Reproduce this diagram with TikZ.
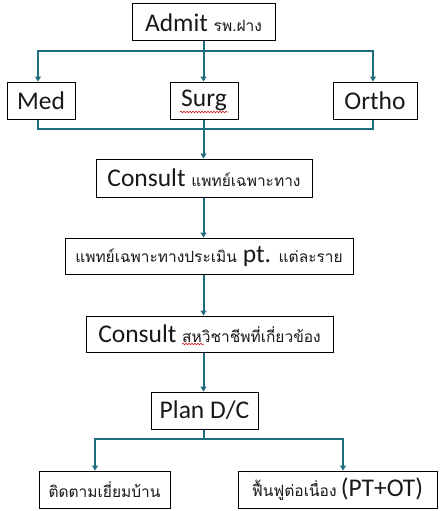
\documentclass[tikz,border=0pt]{standalone}
\usepackage{fontspec}
\setmainfont{Carlito}
\newfontfamily\thaifont[Script=Thai]{Loma}
\usetikzlibrary{arrows.meta,decorations.pathmorphing}
\definecolor{flow}{RGB}{30,108,124}
\newcommand{\latsize}{\fontsize{25.5}{28}\selectfont}
\newcommand{\thtxt}{\thaifont\fontsize{15.5}{18}\selectfont}
\tikzset{
  box/.style={draw=black, line width=1pt, fill=white, rectangle, inner sep=0pt,
    minimum height=37pt, font=\latsize, text=black!90},
  link/.style={draw=flow, line width=2pt},
  arr/.style={link, -{Triangle[width=6pt,length=5pt]}},
  squiggle/.style={draw=red!85!black, line width=0.5pt,
    decorate, decoration={snake, amplitude=0.8pt, segment length=3pt}}
}
\begin{document}
\begin{tikzpicture}[x=1pt,y=-1pt]
\useasboundingbox (0,0) rectangle (440,511);

% boxes
\node[box, minimum width=143pt] (admit) at (203.5,22.5) {Admit {\thtxt รพ.ฝาง}};
\node[box, minimum width=68pt] (med) at (41,100.5) {Med};
\node[box, minimum width=68pt] (surg) at (204,100.5) {Surg};
\node[box, minimum width=84pt] (ortho) at (375,100.5) {Ortho};
\node[box, minimum width=216pt, minimum height=38pt] (consult) at (204,178) {Consult {\thtxt แพทย์เฉพาะทาง}};
\node[box, minimum width=288pt, minimum height=36pt] (assess) at (209,256) {{\thtxt แพทย์เฉพาะทางประเมิน} pt. {\thtxt แต่ละราย}};
\node[box, minimum width=247pt, minimum height=36pt] (allied) at (209.5,334) {Consult {\thtxt สหวิชาชีพที่เกี่ยวข้อง}};
\node[box, minimum width=107pt] (plan) at (204.5,410.5) {Plan D/C};
\node[box, minimum width=131pt] (visit) at (104.5,489.5) {\thtxt ติดตามเยี่ยมบ้าน};
\node[box, minimum width=199pt] (rehab) at (337.5,489.5) {{\thtxt ฟื้นฟูต่อเนื่อง}\,(PT+OT)};

% spell-check marks
\draw[squiggle] (180,112) -- (228,112);
\draw[squiggle] (182,344) -- (204,344);

% junction points
\coordinate (fan) at (203.5,51);
\coordinate (join) at (203.5,129);
\coordinate (split) at (203.5,439);

% connectors
\draw[link] (admit.south -| fan) -- (fan);
\draw[arr] (fan) -| ([xshift=-3pt]med.north);
\draw[arr] (fan) -- (surg.north -| fan);
\draw[arr] (fan) -| ([xshift=-2pt]ortho.north);
\draw[link] ([xshift=-3pt]med.south) |- (join);
\draw[link] ([xshift=-2pt]ortho.south) |- (join);
\draw[link] (surg.south -| join) -- (join);
\draw[arr] (join) -- (consult.north -| join);
\draw[arr] (consult.south -| join) -- (assess.north -| join);
\draw[arr] (assess.south -| join) -- (allied.north -| join);
\draw[arr] (allied.south -| join) -- (plan.north -| join);
\draw[link] (plan.south -| split) -- (split);
\draw[arr] (split) -| ([xshift=-9.5pt]visit.north);
\draw[arr] (split) -| ([xshift=5.5pt]rehab.north);
\end{tikzpicture}
\end{document}
